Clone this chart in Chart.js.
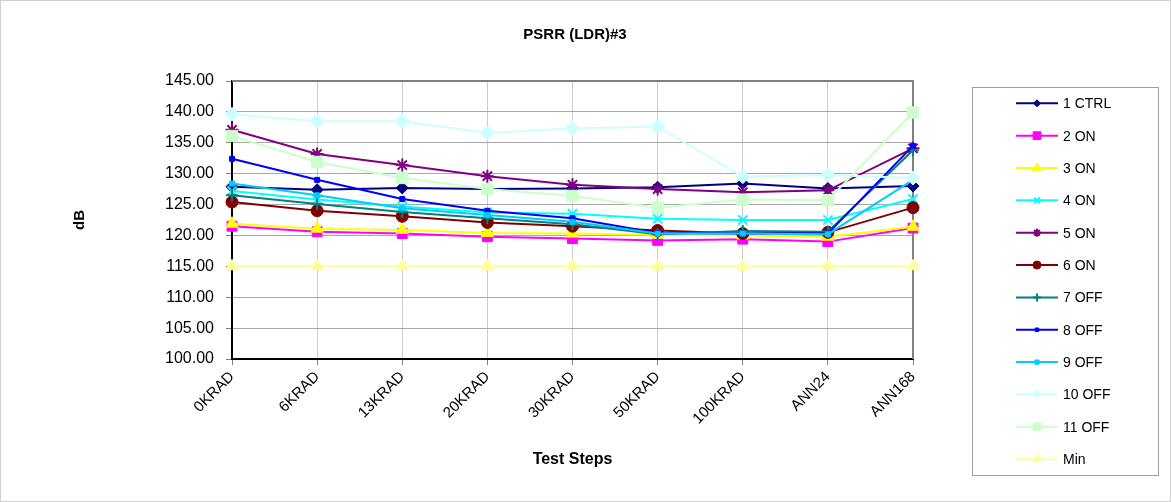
<!DOCTYPE html>
<html>
<head>
<meta charset="utf-8">
<script src="https://cdn.jsdelivr.net/npm/chart.js@4/dist/chart.umd.min.js"></script>
<style>
  html, body { margin: 0; padding: 0; background: #ffffff; }
  #wrap { width: 1171px; height: 502px; position: relative; }
</style>
</head>
<body>
<div id="wrap"><canvas id="c" width="1171" height="502"></canvas></div>
<script>
const chartTitle = 'PSRR (LDR)#3';
const xTitle = 'Test Steps';
const yTitle = 'dB';
const categories = ['0KRAD','6KRAD','13KRAD','20KRAD','30KRAD','50KRAD','100KRAD','ANN24','ANN168'];
const seriesNames = ['1 CTRL','2 ON','3 ON','4 ON','5 ON','6 ON','7 OFF','8 OFF','9 OFF','10 OFF','11 OFF','Min'];

const s1CTRL = [127.9, 127.4, 127.7, 127.5, 127.6, 127.8, 128.4, 127.6, 128.0];
const s2ON   = [121.5, 120.6, 120.3, 119.8, 119.5, 119.2, 119.4, 119.0, 121.2];
const s3ON   = [121.9, 121.1, 120.9, 120.4, 120.3, 120.1, 120.0, 119.8, 121.4];
const s4ON   = [127.2, 125.8, 124.7, 123.7, 123.5, 122.7, 122.5, 122.5, 125.9];
const s5ON   = [137.1, 133.2, 131.4, 129.6, 128.2, 127.5, 127.0, 127.3, 134.1];
const s6ON   = [125.4, 124.0, 123.1, 122.1, 121.5, 120.8, 120.3, 120.5, 124.5];
const s7OFF  = [126.5, 125.1, 123.8, 122.8, 121.8, 120.2, 120.7, 120.6, 133.8];
const s8OFF  = [132.4, 129.0, 125.9, 124.0, 122.8, 120.4, 120.3, 120.3, 134.5];
const s9OFF  = [128.4, 126.5, 124.4, 123.3, 122.2, 120.3, 120.3, 120.2, 129.0];
const s10OFF = [139.6, 138.5, 138.5, 136.6, 137.3, 137.6, 129.5, 129.8, 129.3];
const s11OFF = [136.1, 131.9, 129.3, 127.5, 126.4, 124.5, 125.8, 125.7, 139.9];
const sMin   = [115.0, 115.0, 115.0, 115.0, 115.0, 115.0, 115.0, 115.0, 115.0];
const seriesValues = [s1CTRL, s2ON, s3ON, s4ON, s5ON, s6ON, s7OFF, s8OFF, s9OFF, s10OFF, s11OFF, sMin];
const yTicks = [100, 105, 110, 115, 120, 125, 130, 135, 140, 145];

const styles = [
  {color:'#000080', fill:'#000080', ps:'rectRot', r:6, bw:1, lr:3.5},
  {color:'#FF00FF', fill:'#FF00FF', ps:'rect', r:7, bw:1, lr:5.5},
  {color:'#FFFF00', fill:'#FFFF00', ps:'triangle', r:7, bw:1, lr:5},
  {color:'#00FFFF', fill:'#00FFFF', ps:'crossRot', r:6.5, bw:2, lr:4},
  {color:'#800080', fill:'#800080', ps:'star', r:6.5, bw:2, lr:4},
  {color:'#800000', fill:'#800000', ps:'circle', r:6, bw:1, lr:4},
  {color:'#008080', fill:'#008080', ps:'cross', r:6, bw:2, lr:4},
  {color:'#0000FF', fill:'#0000FF', ps:'rect', r:3.5, bw:1, lr:2.5},
  {color:'#00CCFF', fill:'#00CCFF', ps:'rect', r:3.5, bw:1, lr:3},
  {color:'#CCFFFF', fill:'#CCFFFF', ps:'rectRot', r:7, bw:1, lr:4},
  {color:'#CCFFCC', fill:'#CCFFCC', ps:'rect', r:8, bw:1, lr:5.5},
  {color:'#FFFF99', fill:'#FFFF99', ps:'triangle', r:7, bw:1, lr:5}
];

const FONT = "'Liberation Sans', Arial, sans-serif";

const datasets = seriesNames.map((name, i) => ({
  label: name,
  data: seriesValues[i],
  borderColor: styles[i].color,
  backgroundColor: styles[i].fill,
  pointBackgroundColor: styles[i].fill,
  pointBorderColor: styles[i].color,
  pointStyle: styles[i].ps,
  pointRadius: styles[i].r,
  pointBorderWidth: styles[i].bw,
  borderWidth: 2,
  tension: 0,
  fill: false,
  order: seriesNames.length - 1 - i
}));

const decor = {
  id: 'decor',
  beforeDatasetsDraw(chart) {
    const {ctx, chartArea: a} = chart;
    ctx.save();
    ctx.strokeStyle = '#808080';
    ctx.lineWidth = 2;
    ctx.beginPath();
    ctx.moveTo(a.left, a.top);
    ctx.lineTo(a.right, a.top);
    ctx.lineTo(a.right, a.bottom);
    ctx.stroke();
    ctx.restore();
  },
  afterDraw(chart) {
    const {ctx} = chart;
    ctx.save();
    ctx.strokeStyle = '#d0d0d0';
    ctx.lineWidth = 1;
    ctx.strokeRect(0.5, 0.5, chart.width - 1, chart.height - 1);
    ctx.fillStyle = '#000';
    ctx.font = 'bold 15px ' + FONT;
    ctx.textAlign = 'center';
    ctx.textBaseline = 'middle';
    ctx.fillText(chartTitle, 575, 35);
    ctx.strokeStyle = '#a0a0a0';
    ctx.lineWidth = 1;
    ctx.strokeRect(972.5, 87.5, 186, 388);
    const x0 = 1016, x1 = 1058, xm = 1037, xt = 1063;
    const yStart = 103.3, dy = 32.35;
    ctx.font = '14px ' + FONT;
    ctx.textAlign = 'left';
    ctx.textBaseline = 'middle';
    seriesNames.forEach((name, i) => {
      const y = yStart + i * dy;
      const st = styles[i];
      ctx.strokeStyle = st.color;
      ctx.lineWidth = 2;
      ctx.beginPath();
      ctx.moveTo(x0, y);
      ctx.lineTo(x1, y);
      ctx.stroke();
      ctx.fillStyle = st.fill;
      ctx.strokeStyle = st.color;
      ctx.lineWidth = st.bw;
      Chart.helpers.drawPoint(ctx, {pointStyle: st.ps, radius: st.lr, rotation: 0, borderWidth: st.bw}, xm, y);
      ctx.fillStyle = '#000';
      ctx.fillText(name, xt, y + 1);
    });
    ctx.restore();
  }
};

new Chart(document.getElementById('c'), {
  type: 'line',
  data: { labels: categories, datasets },
  options: {
    responsive: false,
    animation: false,
    layout: { padding: { top: 81, right: 258, left: 0, bottom: 0 } },
    plugins: {
      legend: { display: false },
      title: { display: false },
      tooltip: { enabled: false }
    },
    scales: {
      x: {
        offset: false,
        grid: { color: '#cccccc', lineWidth: 1, tickLength: 6, tickColor: '#808080' },
        border: { color: '#000', width: 2 },
        ticks: {
          autoSkip: false, minRotation: 45, maxRotation: 45, padding: 3,
          color: '#000', font: { family: FONT, size: 15 }
        },
        title: {
          display: true, text: xTitle, color: '#000',
          font: { family: FONT, size: 16, weight: 'bold' },
          padding: { top: 0, bottom: 33 }
        },
        afterFit(scale) { scale.height = 143; }
      },
      y: {
        min: 100, max: 145,
        afterBuildTicks(scale) { scale.ticks = yTicks.map(v => ({ value: v })); },
        grid: { color: '#a8a8a8', lineWidth: 1, tickLength: 6, tickColor: '#808080' },
        border: { color: '#000', width: 2 },
        ticks: {
          padding: 12, color: '#000', font: { family: FONT, size: 16 },
          callback: v => Number(v).toFixed(2)
        },
        title: {
          display: true, text: yTitle, color: '#000',
          font: { family: FONT, size: 15, weight: 'bold' },
          padding: { top: 71, bottom: 0 }
        },
        afterFit(scale) { scale.width = 232; }
      }
    }
  },
  plugins: [decor]
});
</script>
</body>
</html>
